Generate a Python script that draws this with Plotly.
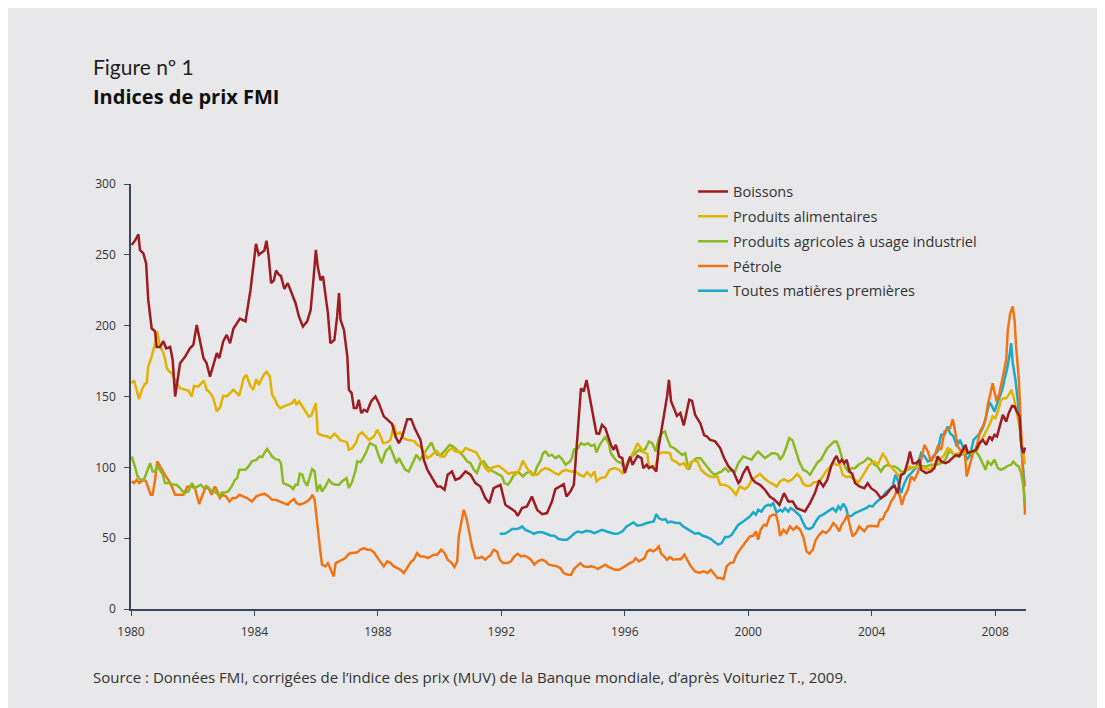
import plotly.graph_objects as go

# indices FMI (base 100 ~ 2005)
boissons_annee = [1980.02, 1980.13, 1980.24, 1980.29, 1980.4, 1980.49, 1980.56, 1980.67, 1980.78, 1980.83,
                  1980.94, 1981.05, 1981.14, 1981.27, 1981.35, 1981.43, 1981.59, 1981.75, 1981.91, 1982.02,
                  1982.13, 1982.24, 1982.35, 1982.45, 1982.56, 1982.78, 1982.86, 1982.99, 1983.1, 1983.21,
                  1983.32, 1983.53, 1983.71, 1983.87, 1983.98, 1984.05, 1984.14, 1984.25, 1984.32, 1984.39,
                  1984.46, 1984.54, 1984.63, 1984.7, 1984.79, 1984.86, 1984.97, 1985.08, 1985.22, 1985.33,
                  1985.44, 1985.57, 1985.71, 1985.82, 1985.92, 1985.99, 1986.05, 1986.14, 1986.22, 1986.3,
                  1986.38, 1986.46, 1986.59, 1986.68, 1986.74, 1986.79, 1986.9, 1987.01, 1987.06, 1987.15,
                  1987.22, 1987.31, 1987.38, 1987.46, 1987.55, 1987.65, 1987.78, 1987.92, 1988.03, 1988.19,
                  1988.36, 1988.46, 1988.57, 1988.68, 1988.79, 1988.95, 1989.08, 1989.19, 1989.38, 1989.49,
                  1989.6, 1989.76, 1989.92, 1990.03, 1990.16, 1990.26, 1990.4, 1990.51, 1990.65, 1990.84,
                  1991.0, 1991.16, 1991.32, 1991.48, 1991.61, 1991.75, 1991.97, 1992.13, 1992.29, 1992.45,
                  1992.53, 1992.67, 1992.83, 1992.99, 1993.16, 1993.32, 1993.48, 1993.64, 1993.75, 1993.91,
                  1994.02, 1994.11, 1994.24, 1994.35, 1994.48, 1994.58, 1994.67, 1994.76, 1994.86, 1994.99,
                  1995.08, 1995.17, 1995.26, 1995.37, 1995.48, 1995.55, 1995.64, 1995.71, 1995.82, 1995.92,
                  1996.0, 1996.09, 1996.17, 1996.25, 1996.41, 1996.54, 1996.6, 1996.71, 1996.78, 1996.89,
                  1997.02, 1997.1, 1997.21, 1997.32, 1997.37, 1997.43, 1997.5, 1997.59, 1997.69, 1997.8,
                  1997.91, 1998.02, 1998.09, 1998.18, 1998.28, 1998.45, 1998.57, 1998.66, 1998.77, 1998.93,
                  1999.09, 1999.22, 1999.36, 1999.52, 1999.68, 1999.73, 1999.84, 1999.97, 2000.11, 2000.22,
                  2000.38, 2000.54, 2000.7, 2000.86, 2001.01, 2001.16, 2001.3, 2001.44, 2001.57, 2001.71,
                  2001.84, 2002.0, 2002.16, 2002.3, 2002.43, 2002.56, 2002.7, 2002.81, 2002.86, 2002.95,
                  2003.03, 2003.11, 2003.19, 2003.28, 2003.37, 2003.46, 2003.6, 2003.76, 2003.87, 2003.98,
                  2004.14, 2004.3, 2004.46, 2004.63, 2004.74, 2004.84, 2004.95, 2005.06, 2005.17, 2005.24,
                  2005.33, 2005.44, 2005.55, 2005.6, 2005.76, 2005.92, 2006.03, 2006.14, 2006.25, 2006.39,
                  2006.5, 2006.61, 2006.74, 2006.84, 2006.95, 2007.04, 2007.11, 2007.22, 2007.38, 2007.49,
                  2007.6, 2007.71, 2007.82, 2007.9, 2007.98, 2008.06, 2008.14, 2008.25, 2008.36, 2008.44,
                  2008.55, 2008.63, 2008.7, 2008.79, 2008.85, 2008.92, 2008.97]
boissons_indice = [257, 260, 264.5, 253.5, 251, 244, 218, 198, 196, 185,
                   185, 189, 184, 185, 176, 150, 173.5, 178, 184, 186.5,
                   200.5, 187.6, 177, 173.5, 164, 180.6, 177, 189, 193.5, 187.6,
                   198, 205, 203, 225, 246, 257.7, 250, 252, 253, 260,
                   249, 230, 232, 239, 236, 235, 226, 230, 221.7, 216,
                   206.5, 199.4, 203, 211, 234.7, 253.5, 241.7, 232, 235, 223,
                   208.8, 187.6, 190, 206.5, 223, 204, 197, 178, 154.7, 152.4,
                   141.8, 141.8, 147.7, 138.3, 140.6, 139.4, 146.5, 150, 145.3, 136,
                   132.4, 130.7, 121.8, 117, 121.8, 134, 134, 127.7, 119.4, 105.3,
                   98.3, 92.4, 86.5, 86.5, 84.2, 94.8, 97.1, 91.2, 92.4, 97.1,
                   94.8, 88.9, 86.5, 78.3, 74.8, 85.3, 87.7, 73.6, 71.2, 68.8,
                   65.8, 71.2, 72.4, 79.4, 70, 66.9, 67.7, 75.9, 84.6, 86.5,
                   88.1, 79.4, 83, 87.7, 124, 155.8, 153.5, 161.7, 150, 135.9,
                   124, 123.6, 130, 127.7, 119.4, 115.9, 112.4, 115.9, 107.6, 106.5,
                   95.9, 101.8, 107.6, 101.8, 108.1, 106.5, 99.4, 101.8, 99.4, 100.6,
                   97, 114.7, 128.8, 142.9, 150, 161.7, 146.5, 141.8, 136.3, 138.3,
                   129.6, 140.6, 147.7, 146.9, 137, 131, 122.8, 121.8, 119.4, 118.3,
                   113.6, 106.5, 100.6, 97, 88.9, 90, 95.9, 100.6, 92.4, 89.4,
                   87.7, 84.2, 79.4, 77, 73.5, 81.8, 75.9, 75.9, 71.2, 70,
                   68.9, 74.7, 81.8, 90.8, 86.5, 91.2, 101.8, 106.5, 108.1, 103,
                   105.3, 103, 105.3, 97, 95.4, 88.9, 86.5, 85.3, 88.8, 85.3,
                   82.9, 78.2, 80.6, 85.3, 87, 81.8, 94.7, 95.9, 104, 111.1,
                   102.9, 102.9, 105.3, 98.3, 95.9, 97.1, 99.4, 107.7, 104.1, 102.9,
                   104.1, 106.5, 108.8, 107.7, 112.3, 115.9, 110, 111.1, 112.3, 117,
                   119.4, 115.9, 121.8, 119.4, 123, 121.8, 128.8, 137, 132.3, 138.2,
                   143.4, 143, 139.4, 135.9, 114.7, 110, 114]

alimentaires_annee = [1980.02, 1980.1, 1980.18, 1980.26, 1980.35, 1980.45, 1980.51, 1980.56, 1980.67, 1980.78,
                      1980.85, 1980.94, 1981.03, 1981.1, 1981.16, 1981.24, 1981.32, 1981.39, 1981.48, 1981.59,
                      1981.75, 1981.86, 1981.97, 1982.04, 1982.18, 1982.29, 1982.36, 1982.45, 1982.56, 1982.67,
                      1982.78, 1982.89, 1982.99, 1983.1, 1983.21, 1983.32, 1983.43, 1983.51, 1983.65, 1983.74,
                      1983.85, 1983.96, 1984.06, 1984.14, 1984.22, 1984.3, 1984.39, 1984.5, 1984.57, 1984.65,
                      1984.74, 1984.84, 1984.95, 1985.08, 1985.22, 1985.3, 1985.36, 1985.45, 1985.55, 1985.65,
                      1985.76, 1985.84, 1985.92, 1985.99, 1986.05, 1986.14, 1986.25, 1986.36, 1986.46, 1986.59,
                      1986.68, 1986.79, 1986.92, 1987.0, 1987.06, 1987.17, 1987.28, 1987.38, 1987.49, 1987.6,
                      1987.71, 1987.76, 1987.87, 1987.98, 1988.09, 1988.17, 1988.3, 1988.41, 1988.52, 1988.6,
                      1988.71, 1988.84, 1988.95, 1989.08, 1989.19, 1989.27, 1989.38, 1989.47, 1989.6, 1989.7,
                      1989.81, 1989.92, 1990.03, 1990.16, 1990.26, 1990.4, 1990.51, 1990.62, 1990.73, 1990.84,
                      1990.98, 1991.11, 1991.19, 1991.32, 1991.48, 1991.59, 1991.64, 1991.75, 1991.91, 1992.08,
                      1992.24, 1992.35, 1992.45, 1992.59, 1992.7, 1992.83, 1992.99, 1993.16, 1993.29, 1993.43,
                      1993.57, 1993.7, 1993.86, 1993.97, 1994.11, 1994.24, 1994.4, 1994.54, 1994.67, 1994.78,
                      1994.91, 1995.02, 1995.08, 1995.21, 1995.37, 1995.51, 1995.66, 1995.82, 1995.92, 1996.03,
                      1996.19, 1996.3, 1996.41, 1996.51, 1996.62, 1996.73, 1996.78, 1996.89, 1996.99, 1997.1,
                      1997.21, 1997.35, 1997.46, 1997.53, 1997.64, 1997.78, 1997.91, 1998.02, 1998.12, 1998.23,
                      1998.36, 1998.47, 1998.61, 1998.75, 1998.87, 1999.0, 1999.09, 1999.22, 1999.36, 1999.46,
                      1999.6, 1999.73, 1999.89, 2000.0, 2000.11, 2000.27, 2000.38, 2000.51, 2000.65, 2000.79,
                      2000.92, 2001.03, 2001.16, 2001.3, 2001.44, 2001.59, 2001.7, 2001.78, 2001.89, 2002.0,
                      2002.13, 2002.27, 2002.38, 2002.52, 2002.65, 2002.76, 2002.86, 2002.97, 2003.06, 2003.17,
                      2003.3, 2003.43, 2003.57, 2003.76, 2003.92, 2004.09, 2004.19, 2004.36, 2004.46, 2004.57,
                      2004.68, 2004.81, 2004.9, 2005.0, 2005.11, 2005.22, 2005.33, 2005.46, 2005.6, 2005.76,
                      2005.89, 2006.03, 2006.19, 2006.36, 2006.46, 2006.57, 2006.68, 2006.79, 2006.95, 2007.11,
                      2007.28, 2007.41, 2007.51, 2007.62, 2007.73, 2007.84, 2007.92, 2008.01, 2008.12, 2008.19,
                      2008.27, 2008.36, 2008.44, 2008.53, 2008.61, 2008.7, 2008.79, 2008.88, 2008.97]
alimentaires_indice = [159.4, 161.3, 154.7, 148.1, 154.7, 159, 159.4, 171.2, 178.2, 187.6,
                       195.9, 185.3, 181.8, 177, 170, 167.6, 166.5, 163, 159.4, 155.9,
                       155.2, 154.2, 150, 157.5, 157, 159.4, 161.3, 154.7, 152.8, 148.8,
                       139.4, 142.5, 150.5, 150, 152.4, 154.7, 152.4, 150.5, 163, 165.3,
                       158.2, 154.7, 162.2, 158.2, 161.8, 165.3, 167.6, 164.1, 151.2, 148.8,
                       144.1, 141.8, 143, 144.1, 145.3, 148.1, 144.1, 146.5, 143, 140.1,
                       135.9, 136.4, 141.8, 145.3, 124.1, 123, 122.3, 121.8, 120.6, 123.7,
                       121.8, 119, 118.3, 117.6, 112.4, 113.6, 117.1, 123, 124.6, 121.8,
                       119.4, 119.9, 121.8, 126.5, 121.8, 117.1, 117.6, 119.4, 130, 123,
                       124.6, 120.6, 119.4, 119, 118.3, 115.9, 114.7, 111.2, 106.5, 107.7,
                       110, 111.2, 107.7, 107.7, 111.2, 113.6, 111.2, 111.2, 110.5, 113.6,
                       112.4, 111.2, 110.5, 105.3, 99.5, 97.1, 99.4, 100.1, 101.1, 98.3,
                       95.4, 96.4, 94.7, 98.3, 104.8, 99.4, 94.7, 94.7, 97.8, 99.4,
                       98.3, 96.4, 94.7, 97.1, 98.3, 97.1, 97.1, 94.7, 93.6, 96.4,
                       93.6, 97.1, 90, 92.4, 93.1, 98.3, 99.4, 98.3, 95.9, 101.1,
                       107.7, 111.2, 117.1, 113.6, 110.5, 109.5, 100.6, 100.6, 100.6, 109.5,
                       110.5, 110.5, 110, 105.3, 104.1, 101.8, 103, 99.4, 103, 104.8,
                       104.1, 98.3, 95.4, 93.6, 93.1, 93.6, 87.7, 87.7, 86.5, 84.6,
                       80.6, 86.5, 84.6, 86.5, 91.2, 93.6, 95.4, 92.4, 90, 88.4,
                       86.5, 90, 91.7, 90, 91.7, 95.4, 92.4, 88.4, 87, 87,
                       89.4, 90, 92.4, 97.1, 100.6, 103, 101.8, 101.8, 94.7, 93.1,
                       93.6, 91.7, 89.4, 95.9, 101.8, 104.1, 101.8, 109.5, 106.5, 101.8,
                       99.4, 95.9, 93.6, 94.7, 98.3, 100.6, 99.4, 100.6, 100.1, 99.4,
                       98.3, 101.8, 105.3, 108.8, 113.5, 112.3, 107.7, 110, 110, 111.2,
                       111.2, 112.3, 117, 121.8, 126.5, 131.2, 135.9, 134.7, 141.8, 147.6,
                       148.8, 148.8, 151.2, 154.7, 148.8, 139.4, 128.8, 114.7, 102]

agricoles_annee = [1980.02, 1980.13, 1980.21, 1980.31, 1980.42, 1980.51, 1980.62, 1980.7, 1980.78, 1980.85,
                   1980.94, 1981.03, 1981.1, 1981.24, 1981.37, 1981.48, 1981.59, 1981.72, 1981.86, 1981.97,
                   1982.07, 1982.18, 1982.26, 1982.36, 1982.47, 1982.58, 1982.67, 1982.78, 1982.86, 1982.94,
                   1983.05, 1983.15, 1983.26, 1983.37, 1983.44, 1983.51, 1983.71, 1983.81, 1983.92, 1984.06,
                   1984.17, 1984.25, 1984.32, 1984.41, 1984.5, 1984.57, 1984.68, 1984.79, 1984.86, 1984.93,
                   1985.06, 1985.17, 1985.25, 1985.33, 1985.4, 1985.47, 1985.55, 1985.62, 1985.71, 1985.78,
                   1985.87, 1985.95, 1986.03, 1986.12, 1986.19, 1986.3, 1986.41, 1986.52, 1986.63, 1986.74,
                   1986.84, 1986.98, 1987.06, 1987.17, 1987.28, 1987.33, 1987.44, 1987.52, 1987.63, 1987.74,
                   1987.92, 1988.03, 1988.12, 1988.25, 1988.39, 1988.5, 1988.6, 1988.68, 1988.79, 1988.89,
                   1989.0, 1989.11, 1989.25, 1989.36, 1989.47, 1989.6, 1989.73, 1989.83, 1989.92, 1990.05,
                   1990.19, 1990.33, 1990.44, 1990.54, 1990.67, 1990.78, 1990.89, 1991.0, 1991.11, 1991.21,
                   1991.32, 1991.43, 1991.54, 1991.64, 1991.86, 1992.02, 1992.1, 1992.21, 1992.29, 1992.45,
                   1992.59, 1992.7, 1992.81, 1992.94, 1993.05, 1993.16, 1993.26, 1993.35, 1993.43, 1993.54,
                   1993.64, 1993.75, 1993.86, 1993.97, 1994.08, 1994.22, 1994.29, 1994.35, 1994.48, 1994.58,
                   1994.69, 1994.8, 1994.91, 1995.02, 1995.08, 1995.19, 1995.3, 1995.37, 1995.48, 1995.55,
                   1995.66, 1995.76, 1995.89, 1996.0, 1996.11, 1996.25, 1996.35, 1996.46, 1996.57, 1996.68,
                   1996.78, 1996.89, 1997.0, 1997.1, 1997.21, 1997.3, 1997.37, 1997.48, 1997.61, 1997.75,
                   1997.86, 1997.96, 1998.07, 1998.18, 1998.32, 1998.45, 1998.57, 1998.68, 1998.79, 1998.9,
                   1999.0, 1999.14, 1999.25, 1999.36, 1999.46, 1999.57, 1999.68, 1999.84, 1999.97, 2000.11,
                   2000.22, 2000.32, 2000.43, 2000.54, 2000.65, 2000.76, 2000.86, 2000.97, 2001.03, 2001.14,
                   2001.22, 2001.33, 2001.44, 2001.54, 2001.65, 2001.78, 2001.89, 2002.0, 2002.13, 2002.24,
                   2002.35, 2002.45, 2002.56, 2002.67, 2002.78, 2002.86, 2002.95, 2003.04, 2003.14, 2003.24,
                   2003.35, 2003.46, 2003.57, 2003.76, 2003.87, 2003.98, 2004.09, 2004.19, 2004.3, 2004.41,
                   2004.52, 2004.63, 2004.74, 2004.84, 2004.95, 2005.06, 2005.17, 2005.28, 2005.44, 2005.6,
                   2005.76, 2005.92, 2006.09, 2006.25, 2006.39, 2006.5, 2006.63, 2006.76, 2006.9, 2007.06,
                   2007.22, 2007.38, 2007.49, 2007.6, 2007.69, 2007.76, 2007.87, 2007.98, 2008.09, 2008.19,
                   2008.3, 2008.41, 2008.52, 2008.59, 2008.68, 2008.77, 2008.84, 2008.91, 2008.97]
agricoles_indice = [107.7, 100.6, 93.6, 91.2, 91.2, 97.1, 103, 97.1, 97.1, 101.1,
                    98.3, 94.8, 88.9, 88.9, 87.7, 87.7, 85.4, 81.8, 83, 88.9,
                    85.4, 86.5, 87.7, 85.4, 86.5, 84.2, 83, 81.8, 79.5, 82.3,
                    82.3, 83, 86.5, 91.2, 92.4, 98.3, 98.3, 100.6, 104.2, 105.3,
                    107.7, 107.2, 110, 112.9, 110, 107.7, 105.8, 105.3, 103, 88.9,
                    87.7, 86.5, 84.6, 87.7, 87.7, 95.5, 94.8, 90, 87, 92.4,
                    98.8, 97.1, 83, 87.7, 83, 86.5, 91.2, 88.4, 87.7, 87.7,
                    90, 92.4, 85.4, 90, 98.3, 104.2, 103.5, 106.5, 111.2, 117.1,
                    115.2, 108, 103, 111.2, 114.7, 108.8, 103, 106.5, 101.8, 98.3,
                    97.1, 101.8, 108.9, 105.3, 108.9, 113.6, 117.6, 112.4, 108.9, 108.9,
                    112.4, 115.9, 114.7, 112.4, 110, 107.7, 104.2, 103, 98.3, 95.9,
                    103, 104.2, 100.6, 98.3, 95.9, 93.6, 88.9, 87.7, 90, 96.4,
                    95.9, 93.6, 95.9, 97.1, 94, 100.6, 104.1, 110, 111.2, 108.1,
                    108.8, 106.5, 108.1, 105.8, 101.8, 104.1, 106.5, 112.4, 113.5, 117.1,
                    115.9, 117.1, 115.2, 115.9, 110.5, 115.9, 119.4, 121.3, 117.1, 110,
                    106.5, 104.1, 103, 99.4, 104.1, 108.1, 110, 112.4, 111.2, 113.5,
                    118.2, 117.1, 111.2, 120.6, 124.1, 125.3, 120.6, 114.7, 113.5, 111.2,
                    108.8, 110, 98.3, 104.1, 106.5, 106.5, 103, 100.6, 97.1, 94.7,
                    95.9, 97.1, 99.4, 97.1, 98.3, 97.1, 103, 107.7, 106.5, 105.3,
                    108.8, 111.2, 108.8, 106.5, 108.1, 110, 110, 108.8, 105.3, 108.8,
                    113.5, 120.6, 118.9, 112.4, 104.1, 98.3, 97.1, 94.7, 99.4, 103.4,
                    105.3, 108.8, 113.5, 115.9, 118.2, 118.2, 113.5, 106.5, 100.1, 97.1,
                    99.4, 99.4, 101.8, 104.1, 106.5, 105.3, 101.8, 100.6, 97.1, 100.6,
                    101.8, 100.6, 100.6, 99.4, 97.1, 97.1, 98.3, 99.4, 100.6, 101.1,
                    100.6, 101.8, 101.8, 102.9, 105.3, 111.2, 110, 107.7, 108.8, 110,
                    110, 111.2, 107.7, 102.9, 98.3, 104.1, 101.8, 105.3, 99.4, 98.3,
                    99.4, 101.1, 101.8, 104.1, 101.8, 100.6, 95.9, 87.7, 74.7]

petrole_annee = [1980.02, 1980.1, 1980.18, 1980.27, 1980.4, 1980.49, 1980.56, 1980.64, 1980.7, 1980.78,
                 1980.85, 1980.94, 1981.05, 1981.13, 1981.21, 1981.32, 1981.43, 1981.59, 1981.7, 1981.83,
                 1981.97, 1982.07, 1982.15, 1982.21, 1982.32, 1982.43, 1982.54, 1982.61, 1982.72, 1982.8,
                 1982.88, 1982.97, 1983.08, 1983.19, 1983.29, 1983.4, 1983.51, 1983.76, 1983.92, 1984.06,
                 1984.19, 1984.32, 1984.46, 1984.57, 1984.68, 1984.82, 1984.95, 1985.08, 1985.17, 1985.28,
                 1985.36, 1985.47, 1985.6, 1985.71, 1985.82, 1985.88, 1985.95, 1986.01, 1986.06, 1986.14,
                 1986.19, 1986.3, 1986.38, 1986.44, 1986.52, 1986.57, 1986.63, 1986.74, 1986.84, 1986.95,
                 1987.03, 1987.11, 1987.22, 1987.33, 1987.44, 1987.55, 1987.65, 1987.76, 1987.87, 1987.98,
                 1988.09, 1988.19, 1988.3, 1988.41, 1988.52, 1988.63, 1988.73, 1988.84, 1988.95, 1989.06,
                 1989.16, 1989.27, 1989.38, 1989.49, 1989.62, 1989.7, 1989.81, 1989.92, 1990.05, 1990.16,
                 1990.26, 1990.37, 1990.48, 1990.57, 1990.62, 1990.7, 1990.78, 1990.87, 1990.95, 1991.05,
                 1991.16, 1991.27, 1991.37, 1991.48, 1991.59, 1991.64, 1991.75, 1991.86, 1991.95, 1992.05,
                 1992.21, 1992.31, 1992.42, 1992.53, 1992.64, 1992.75, 1992.85, 1992.96, 1993.07, 1993.18,
                 1993.32, 1993.43, 1993.54, 1993.68, 1993.81, 1993.91, 1994.02, 1994.15, 1994.26, 1994.35,
                 1994.45, 1994.56, 1994.67, 1994.8, 1994.91, 1995.02, 1995.12, 1995.26, 1995.37, 1995.48,
                 1995.55, 1995.68, 1995.82, 1995.96, 1996.06, 1996.17, 1996.28, 1996.35, 1996.46, 1996.57,
                 1996.64, 1996.73, 1996.82, 1996.92, 1997.0, 1997.1, 1997.18, 1997.27, 1997.37, 1997.46,
                 1997.57, 1997.69, 1997.82, 1997.93, 1998.04, 1998.14, 1998.28, 1998.42, 1998.55, 1998.68,
                 1998.79, 1998.9, 1999.0, 1999.09, 1999.2, 1999.3, 1999.41, 1999.52, 1999.62, 1999.73,
                 1999.84, 1999.95, 2000.05, 2000.16, 2000.25, 2000.32, 2000.4, 2000.51, 2000.59, 2000.7,
                 2000.81, 2000.9, 2000.97, 2001.03, 2001.14, 2001.24, 2001.35, 2001.46, 2001.57, 2001.68,
                 2001.78, 2001.89, 2001.98, 2002.09, 2002.19, 2002.3, 2002.41, 2002.52, 2002.63, 2002.76,
                 2002.86, 2002.95, 2003.03, 2003.14, 2003.21, 2003.3, 2003.38, 2003.49, 2003.6, 2003.76,
                 2003.87, 2003.98, 2004.09, 2004.19, 2004.27, 2004.36, 2004.44, 2004.52, 2004.63, 2004.74,
                 2004.81, 2004.9, 2004.98, 2005.06, 2005.17, 2005.28, 2005.38, 2005.49, 2005.6, 2005.71,
                 2005.82, 2005.92, 2006.03, 2006.14, 2006.25, 2006.36, 2006.46, 2006.54, 2006.63, 2006.71,
                 2006.79, 2006.9, 2007.01, 2007.08, 2007.17, 2007.28, 2007.36, 2007.44, 2007.51, 2007.6,
                 2007.69, 2007.76, 2007.84, 2007.92, 2007.98, 2008.05, 2008.14, 2008.23, 2008.3, 2008.36,
                 2008.41, 2008.49, 2008.57, 2008.63, 2008.68, 2008.77, 2008.84, 2008.91, 2008.97]
petrole_indice = [90.1, 88.9, 91.2, 88.9, 91.2, 90.1, 85.4, 80.6, 80.6, 91.2,
                  104.2, 100.6, 97.1, 93.6, 91.2, 86.5, 80.6, 80.6, 80.6, 86.5,
                  86.5, 85.4, 79.5, 74.1, 80.6, 86.5, 84.2, 80.6, 86.5, 83,
                  78.3, 80.6, 79.5, 75.9, 78.3, 78.3, 80.6, 78.3, 75.9, 79.5,
                  80.6, 81.4, 79.5, 77.1, 77.1, 75.9, 74.8, 73.6, 75.9, 77.6,
                  74.8, 73.6, 74.8, 75.9, 78.3, 80.6, 77.1, 65.4, 51.3, 39.5,
                  31.3, 30.1, 32.4, 28.9, 25.4, 23, 32.4, 33.6, 34.8, 36,
                  38.3, 39.5, 39.5, 40, 41.9, 43, 41.9, 41.9, 40, 36,
                  32.9, 30.1, 33.6, 32.4, 30.1, 28.9, 27.7, 25.4, 28.9, 32.9,
                  34.8, 39.5, 37.1, 37.1, 36, 37.1, 38.3, 38.3, 41.9, 39.5,
                  34.8, 32.9, 29.6, 33.6, 51.3, 60.7, 70.1, 64.2, 54.8, 44.2,
                  36, 36, 36.7, 34.8, 37.1, 37.6, 41.8, 40.7, 34.8, 32.4,
                  32.4, 33.6, 37.1, 39, 37.1, 37.6, 36.7, 34.8, 31.3, 33.6,
                  34.8, 33.6, 31.3, 30.5, 30.1, 28.9, 25.4, 24.2, 24.2, 28.2,
                  30.1, 32.4, 30.1, 29.6, 30.1, 29.6, 28.2, 30.1, 31.3, 29.6,
                  28.9, 27.7, 27.7, 29.6, 31.3, 32.4, 33.6, 35.9, 33.6, 35.2,
                  35.9, 40.7, 41.8, 40.7, 41.8, 44.2, 39, 37.1, 34.8, 36.7,
                  34.8, 35.2, 35.2, 38.3, 33.6, 30.1, 26.5, 25.4, 26.5, 25.4,
                  27.7, 24.2, 21.8, 21.8, 21.1, 30.1, 32.4, 32.9, 38.3, 41.8,
                  45.3, 48.9, 51.2, 51.7, 54.8, 48.9, 55.9, 59.5, 58.8, 65.4,
                  66.6, 66.6, 60.7, 51.7, 55.9, 53.6, 58.3, 55.9, 58.3, 55.9,
                  51.2, 40.7, 39, 41.8, 48.9, 52.4, 54.8, 53.6, 55.9, 60.7,
                  58.3, 54.8, 59.5, 63, 66.6, 58.3, 51.2, 53.6, 58.3, 54.8,
                  58.3, 58.8, 58.3, 58.3, 63, 63.5, 67.7, 70, 75.9, 79.4,
                  84.1, 80.6, 73.5, 79.4, 84.1, 93.5, 91.2, 95.9, 105.3, 115.9,
                  111.2, 104.1, 107.7, 114.7, 112.4, 125.3, 126.5, 127.7, 134, 124.1,
                  114.7, 111.2, 112.4, 93.5, 100.6, 110, 112.4, 118.2, 125.3, 128.8,
                  133.5, 144.1, 151.2, 159.4, 153.5, 146.5, 152.4, 161.7, 168.8, 175.9,
                  197, 208.8, 213.5, 204, 185.2, 161.7, 126.5, 95.9, 66.5]

toutes_annee = [1991.95, 1992.1, 1992.24, 1992.35, 1992.49, 1992.59, 1992.67, 1992.78, 1992.92, 1993.05,
                1993.18, 1993.32, 1993.46, 1993.59, 1993.72, 1993.86, 1994.0, 1994.13, 1994.24, 1994.35,
                1994.48, 1994.62, 1994.76, 1994.89, 1995.02, 1995.12, 1995.26, 1995.41, 1995.54, 1995.66,
                1995.76, 1995.92, 1996.06, 1996.19, 1996.28, 1996.41, 1996.57, 1996.71, 1996.84, 1996.94,
                1997.02, 1997.1, 1997.21, 1997.32, 1997.39, 1997.5, 1997.64, 1997.78, 1997.89, 1998.02,
                1998.14, 1998.28, 1998.39, 1998.53, 1998.66, 1998.79, 1998.93, 1999.03, 1999.14, 1999.25,
                1999.36, 1999.46, 1999.57, 1999.68, 1999.84, 1999.95, 2000.05, 2000.16, 2000.25, 2000.32,
                2000.43, 2000.54, 2000.65, 2000.72, 2000.81, 2000.92, 2001.03, 2001.11, 2001.19, 2001.3,
                2001.37, 2001.46, 2001.57, 2001.68, 2001.76, 2001.87, 2001.98, 2002.09, 2002.19, 2002.3,
                2002.41, 2002.52, 2002.63, 2002.74, 2002.84, 2002.92, 2002.99, 2003.08, 2003.17, 2003.24,
                2003.35, 2003.46, 2003.57, 2003.71, 2003.82, 2003.92, 2004.03, 2004.14, 2004.25, 2004.36,
                2004.46, 2004.57, 2004.68, 2004.77, 2004.84, 2004.95, 2005.06, 2005.17, 2005.28, 2005.38,
                2005.49, 2005.6, 2005.71, 2005.82, 2005.92, 2006.03, 2006.14, 2006.25, 2006.36, 2006.46,
                2006.54, 2006.65, 2006.76, 2006.86, 2006.97, 2007.08, 2007.19, 2007.3, 2007.41, 2007.51,
                2007.62, 2007.71, 2007.82, 2007.9, 2007.98, 2008.05, 2008.14, 2008.23, 2008.3, 2008.38,
                2008.46, 2008.52, 2008.57, 2008.66, 2008.74, 2008.81, 2008.9, 2008.96]
toutes_indice = [53.1, 53.1, 54.7, 56.4, 56.4, 57.1, 58.3, 55.9, 54.7, 53.1,
                 54.2, 54.2, 53.1, 51.9, 51.7, 49.4, 48.9, 48.9, 50.8, 53.1,
                 54.7, 54, 55.2, 54.7, 53.6, 54.7, 55.9, 54.7, 53.6, 53.1,
                 53.1, 54.7, 58.3, 60.2, 61.1, 58.8, 59.5, 60.7, 61.1, 61.8,
                 67, 64.2, 63, 63.5, 61.1, 61.8, 60.7, 60.7, 58.3, 56.4,
                 54.7, 53.1, 53.6, 51.7, 50.8, 49.4, 47, 45.4, 46.5, 50.8,
                 50.8, 52.4, 55.9, 59.5, 61.8, 63.5, 65.3, 68.2, 66.5, 70,
                 68.8, 72.4, 73.6, 72.9, 74.7, 68.2, 70, 68.8, 71.2, 68.8,
                 71.2, 70, 68.2, 65.8, 61.8, 57.1, 56.4, 57.8, 61.8, 65.3,
                 66.5, 68.2, 70, 71.2, 68.8, 72.4, 70.5, 74.3, 71.2, 65.3,
                 65.8, 67.7, 68.8, 70, 71.2, 72.9, 72.4, 75.2, 77.1, 79.4,
                 82.3, 84.1, 86.9, 94.7, 91.2, 81.8, 88.8, 93.5, 95.9, 98.3,
                 101.8, 110, 107.7, 104.1, 105.3, 108.8, 111.2, 123, 123, 128.8,
                 124.1, 121.8, 114.7, 119.4, 113.6, 105.3, 108.8, 119.4, 121.8, 124.1,
                 128.8, 135.9, 145.8, 143, 139.4, 144.1, 148.8, 154.7, 161.7, 168.8,
                 178.2, 187.6, 173.5, 161.7, 145.3, 124.1, 100.6, 86.5]

noms = ["Boissons", "Produits alimentaires", "Produits agricoles à usage industriel",
        "Pétrole", "Toutes matières premières"]
couleurs = ["#9c1c22", "#e2b200", "#8cb91e", "#f07414", "#1ba9c8"]
series = [(boissons_annee, boissons_indice), (alimentaires_annee, alimentaires_indice),
          (agricoles_annee, agricoles_indice), (petrole_annee, petrole_indice),
          (toutes_annee, toutes_indice)]

annees_ticks = list(range(1980, 2009, 4))
indices_ticks = list(range(0, 301, 50))

police = "Open Sans, sans-serif"

fig = go.Figure()
# boissons dessinées en dernier (au-dessus), mais en tête de légende
for i in reversed(range(len(noms))):
    x, y = series[i]
    fig.add_trace(go.Scatter(x=x, y=y, mode="lines", name=noms[i],
                             legendgroup=noms[i], legendrank=i + 1,
                             line=dict(color=couleurs[i], width=2.5)))

axe = "#3b4658"
fig.update_layout(
    width=1097, height=700,
    paper_bgcolor="#e8e8ea", plot_bgcolor="#e8e8ea",
    margin=dict(l=123, r=79, t=176, b=99),
    font=dict(family=police, color="#333333"),
    showlegend=True,
    legend=dict(x=0.628, y=1.02, xanchor="left", yanchor="top",
                traceorder="grouped", tracegroupgap=3,
                font=dict(size=14.5, color="#333333"), bgcolor="rgba(0,0,0,0)"),
    xaxis=dict(range=[1980, 2009], tickvals=annees_ticks, showgrid=False, zeroline=False,
               showline=True, linecolor=axe, linewidth=1.5, ticks="outside", ticklen=5,
               tickcolor=axe, tickwidth=1.2, tickfont=dict(size=12, color="#333333"),
               ticklabelstandoff=6),
    yaxis=dict(range=[0, 300], tickvals=indices_ticks, showgrid=False, zeroline=False,
               showline=True, linecolor=axe, linewidth=1.5, ticks="outside", ticklen=5,
               tickcolor=axe, tickwidth=1.2, tickfont=dict(size=12, color="#333333"),
               ticklabelstandoff=6),
)

fig.add_annotation(text="Figure nº 1", xref="paper", yref="paper", x=-0.0447, y=1.277,
                   xanchor="left", yanchor="middle", showarrow=False,
                   font=dict(size=21, color="#222222", family="Lato, sans-serif"))
fig.add_annotation(text="<b>Indices de prix FMI</b>", xref="paper", yref="paper", x=-0.0447, y=1.205,
                   xanchor="left", yanchor="middle", showarrow=False,
                   font=dict(size=20, color="#111111", family=police))
fig.add_annotation(text="Source : Données FMI, corrigées de l’indice des prix (MUV) de la Banque mondiale, d’après Voituriez T., 2009.",
                   xref="paper", yref="paper", x=-0.0447, y=-0.159,
                   xanchor="left", yanchor="middle", showarrow=False,
                   font=dict(size=15, color="#333333", family=police))

fig.write_html("out.html")
